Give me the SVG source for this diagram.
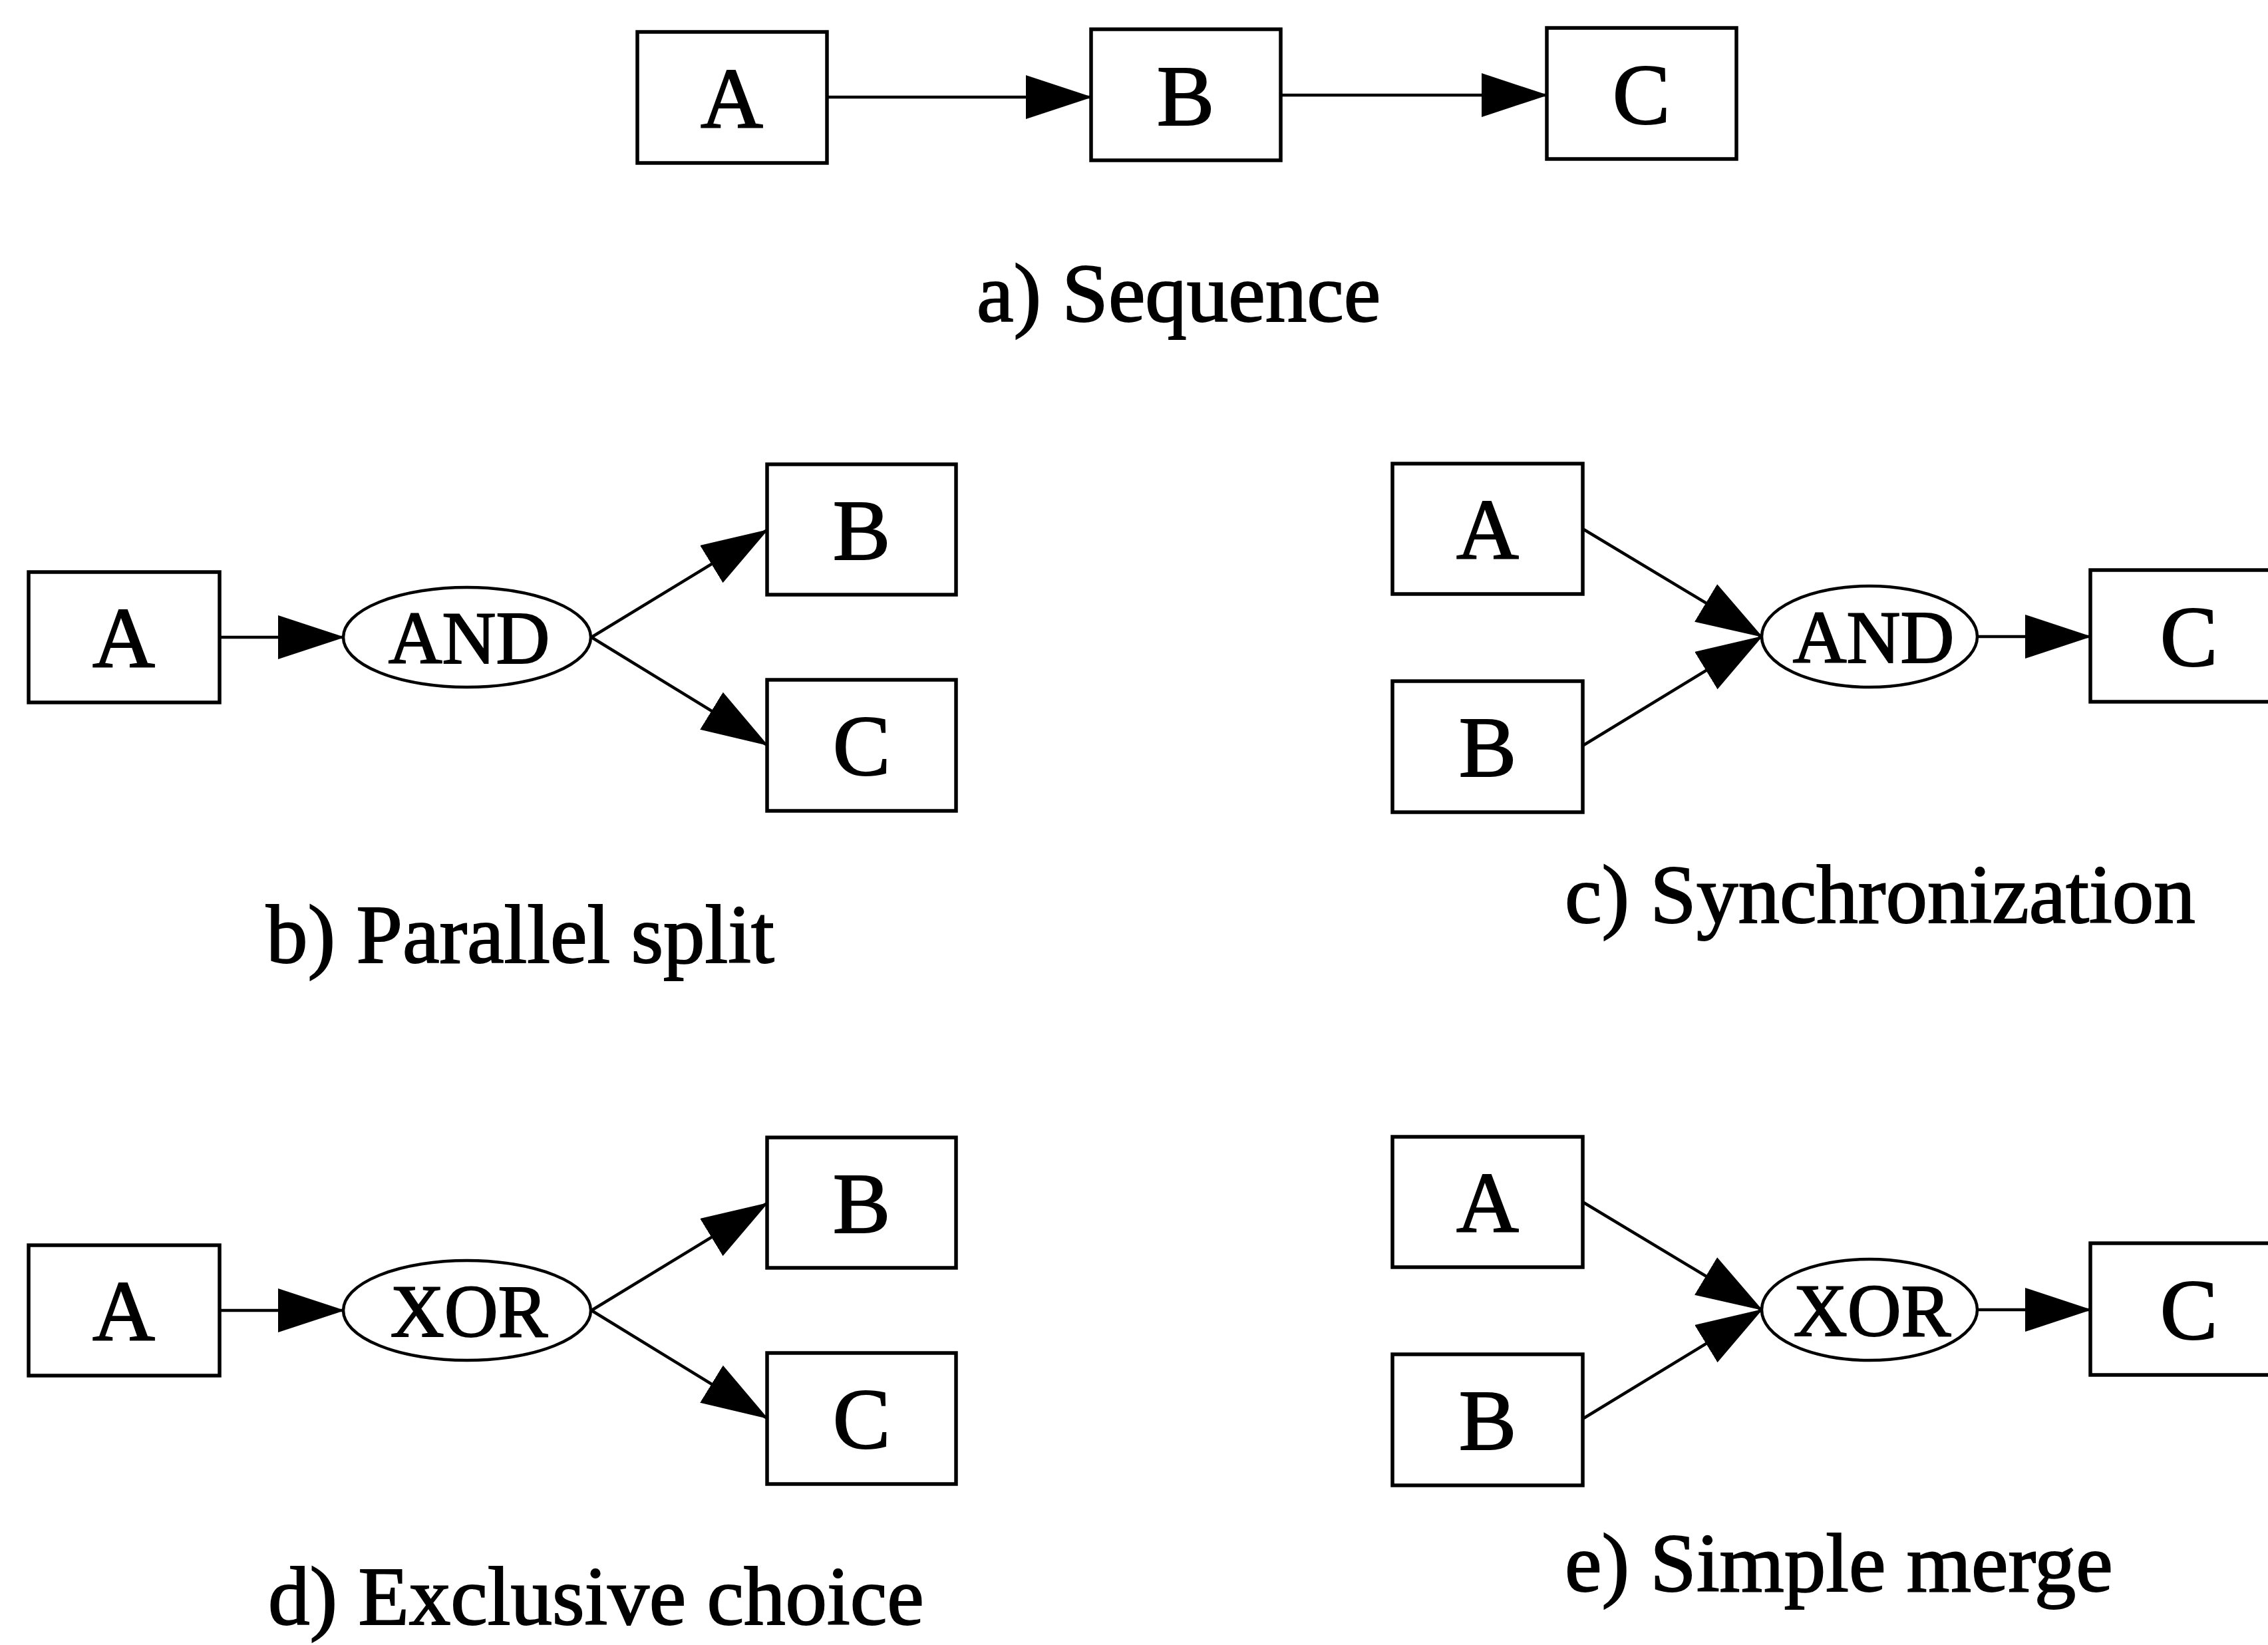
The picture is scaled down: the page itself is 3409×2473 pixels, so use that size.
<svg xmlns="http://www.w3.org/2000/svg" width="3409" height="2473" viewBox="0 0 3409 2473">
<style>
.box{fill:#fff;stroke:#000;stroke-width:5.5}
.gate{fill:#fff;stroke:#000;stroke-width:4.5}
.edge{fill:none;stroke:#000;stroke-width:4.5;marker-end:url(#ah)}
.t{font-family:"Liberation Serif","Times New Roman",serif;fill:#000;stroke:#000;stroke-width:2;text-anchor:middle;font-size:130px}
.g{font-family:"Liberation Serif","Times New Roman",serif;fill:#000;stroke:#000;stroke-width:2;text-anchor:middle;font-size:112px}
.cap{font-family:"Liberation Serif","Times New Roman",serif;fill:#000;stroke:#000;stroke-width:2;font-size:125px}
</style>
<defs>
<marker id="ah" markerUnits="userSpaceOnUse" markerWidth="100" markerHeight="66" refX="98" refY="33" orient="auto" viewBox="0 0 100 66">
<path d="M0,0 L100,33 L0,66 Z" fill="#000"/>
</marker>
</defs>
<rect width="3409" height="2473" fill="#fff"/>

<g id="connectors">
<line class="edge" x1="1243" y1="146" x2="1640" y2="146"/>
<line class="edge" x1="1925" y1="143" x2="2325" y2="143"/>

<line class="edge" x1="330" y1="958" x2="516" y2="958"/>
<line class="edge" x1="889" y1="958" x2="1153" y2="797"/>
<line class="edge" x1="889" y1="958" x2="1153" y2="1120"/>

<line class="edge" x1="2379" y1="795" x2="2648" y2="957"/>
<line class="edge" x1="2379" y1="1121" x2="2648" y2="957"/>
<line class="edge" x1="2972" y1="957" x2="3142" y2="957"/>

<line class="edge" x1="330" y1="1970" x2="516" y2="1970"/>
<line class="edge" x1="889" y1="1970" x2="1153" y2="1809"/>
<line class="edge" x1="889" y1="1970" x2="1153" y2="2132"/>

<line class="edge" x1="2379" y1="1807" x2="2648" y2="1969"/>
<line class="edge" x1="2379" y1="2133" x2="2648" y2="1969"/>
<line class="edge" x1="2972" y1="1969" x2="3142" y2="1969"/>
</g>

<g id="a-A"><rect class="box" x="958" y="48" width="285" height="197"/><text class="t" x="1100" y="192">A</text></g>
<g id="a-B"><rect class="box" x="1640" y="44" width="285" height="197"/><text class="t" x="1782" y="188">B</text></g>
<g id="a-C"><rect class="box" x="2325" y="42" width="285" height="197"/><text class="t" x="2467" y="186">C</text></g>
<text class="cap" x="1468" y="483">a) Sequence</text>

<g id="b-A"><rect class="box" x="43" y="860" width="287" height="196"/><text class="t" x="186" y="1003">A</text></g>
<g id="b-AND"><ellipse class="gate" cx="702" cy="958" rx="186" ry="75"/><text class="g" x="705" y="997">AND</text></g>
<g id="b-B"><rect class="box" x="1153" y="698" width="284" height="196"/><text class="t" x="1295" y="841">B</text></g>
<g id="b-C"><rect class="box" x="1153" y="1022" width="284" height="197"/><text class="t" x="1295" y="1165">C</text></g>
<text class="cap" x="400" y="1447">b) Parallel split</text>

<g id="c-A"><rect class="box" x="2093" y="697" width="286" height="196"/><text class="t" x="2236" y="840">A</text></g>
<g id="c-B"><rect class="box" x="2093" y="1024" width="286" height="197"/><text class="t" x="2236" y="1167">B</text></g>
<g id="c-AND"><ellipse class="gate" cx="2810" cy="957" rx="162" ry="76"/><text class="g" x="2816" y="996">AND</text></g>
<g id="c-C"><rect class="box" x="3142" y="857" width="290" height="198"/><text class="t" x="3290" y="1001">C</text></g>
<text class="cap" x="2352" y="1387">c) Synchronization</text>

<g id="d-A"><rect class="box" x="43" y="1872" width="287" height="196"/><text class="t" x="186" y="2015">A</text></g>
<g id="d-XOR"><ellipse class="gate" cx="702" cy="1970" rx="186" ry="75"/><text class="g" x="705" y="2009">XOR</text></g>
<g id="d-B"><rect class="box" x="1153" y="1710" width="284" height="196"/><text class="t" x="1295" y="1853">B</text></g>
<g id="d-C"><rect class="box" x="1153" y="2034" width="284" height="197"/><text class="t" x="1295" y="2177">C</text></g>
<text class="cap" x="403" y="2442">d) Exclusive choice</text>

<g id="e-A"><rect class="box" x="2093" y="1709" width="286" height="196"/><text class="t" x="2236" y="1852">A</text></g>
<g id="e-B"><rect class="box" x="2093" y="2036" width="286" height="197"/><text class="t" x="2236" y="2179">B</text></g>
<g id="e-XOR"><ellipse class="gate" cx="2810" cy="1969" rx="162" ry="76"/><text class="g" x="2814" y="2008">XOR</text></g>
<g id="e-C"><rect class="box" x="3142" y="1869" width="290" height="198"/><text class="t" x="3290" y="2013">C</text></g>
<text class="cap" x="2352" y="2392">e) Simple merge</text>
</svg>
